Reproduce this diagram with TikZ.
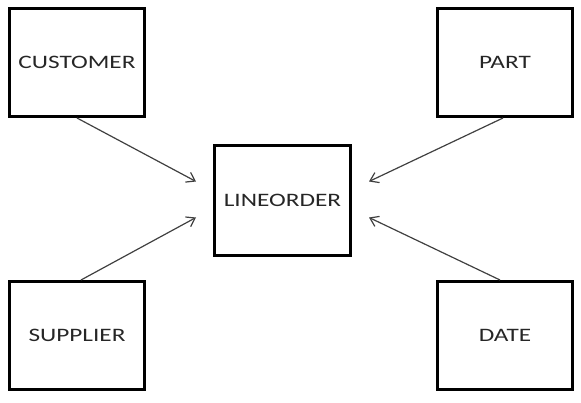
\documentclass[tikz,border=0pt]{standalone}
\usepackage{fontspec}
\setmainfont{Carlito}[FakeStretch=1.33]
\usepackage{tikz}
\usetikzlibrary{arrows.meta, positioning, calc}

\begin{document}
\begin{tikzpicture}[x=1pt, y=1pt,
    table/.style={draw, line width=3pt, minimum width=135pt, minimum height=108pt,
        inner sep=0pt, font=\fontsize{19}{22}\selectfont, text=black!85},
    link/.style={draw=black!75, line width=1.2pt,
        -{Straight Barb[length=8pt, width=11pt]}}]
    \useasboundingbox (0,0) rectangle (581,402);

    % fact table in the middle
    \node[table, minimum width=136pt, minimum height=110pt] (lineorder) at (282.5,201.5) {LINEORDER};

    % dimension tables in the corners
    \node[table] (customer) at (77,339.5) {CUSTOMER};
    \node[table] (part) at (505,339.5) {PART};
    \node[table] (supplier) at (77,66.5) {SUPPLIER};
    \node[table] (date) at (505,66.5) {DATE};

    % arrow ends beside the fact table
    \coordinate (inCustomer) at ($(lineorder.west)+(-17,19)$);
    \coordinate (inSupplier) at ($(lineorder.west)+(-17,-17)$);
    \coordinate (inPart) at ($(lineorder.east)+(17,19)$);
    \coordinate (inDate) at ($(lineorder.east)+(17,-17)$);

    \draw[link] (customer.south) -- (inCustomer);
    \draw[link] ($(supplier.north)+(4,0)$) -- (inSupplier);
    \draw[link] ($(part.south)+(-2,0)$) -- (inPart);
    \draw[link] ($(date.north)+(-5,0)$) -- (inDate);
\end{tikzpicture}
\end{document}
